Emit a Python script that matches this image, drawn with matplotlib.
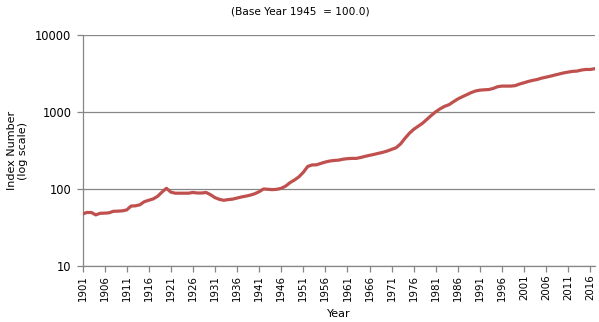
import matplotlib
matplotlib.use("Agg")
import matplotlib.pyplot as plt
from matplotlib.ticker import FixedLocator, NullLocator, FixedFormatter

years = list(range(1901, 2018))
index_values = [
    47.8, 50, 50, 46.5, 48.8, 49, 49.5, 51.8, 52, 52.5,          # 1901-1910
    53.9, 60.6, 61, 63, 69, 72, 75, 81, 92, 103,                 # 1911-1920
    92, 89, 89, 89, 89, 91, 89.5, 89.5, 91, 85,                  # 1921-1930
    78, 74, 72, 73.5, 74.5, 77, 79.5, 81.5, 84, 87.5,            # 1931-1940
    93, 101, 100, 99, 100, 103, 110, 122, 132, 145,              # 1941-1950
    166, 198, 207, 208, 217, 226, 233, 237, 239, 246,            # 1951-1960
    250, 252, 252, 259, 268, 276, 284, 293, 302, 314,            # 1961-1970
    330, 346, 387, 457, 532, 600, 658, 720, 810, 912,            # 1971-1980
    1016, 1111, 1195, 1255, 1370, 1490, 1590, 1690, 1800, 1890,  # 1981-1990
    1940, 1960, 1975, 2040, 2150, 2190, 2190, 2190, 2220, 2330,  # 1991-2000
    2420, 2520, 2600, 2670, 2780, 2860, 2950, 3050, 3150, 3250,  # 2001-2010
    3330, 3400, 3430, 3540, 3600, 3600, 3680,                    # 2011-2017
]
tick_years = list(range(1901, 2018, 5))
y_ticks = [10, 100, 1000, 10000]
y_tick_labels = ["10", "100", "1000", "10000"]

title_text = "(Base Year 1945  = 100.0)"
x_label = "Year"
y_label = "Index Number\n(log scale)"

W, H = 599, 322
fig = plt.figure(figsize=(W / 100, H / 100), dpi=100)
left, right, top, bottom = 82.5, 594.7, 35.3, 266.3
ax = fig.add_axes([left / W, 1 - bottom / H, (right - left) / W, (bottom - top) / H])

grid_c = "#868686"
ax.plot(years, index_values, color="#C0504D", lw=2.3, solid_joinstyle="round", zorder=3)
ax.set_yscale("log")
ax.set_ylim(10, 10000)
ax.set_xlim(1901, 2017)

ax.yaxis.set_major_locator(FixedLocator(y_ticks))
ax.yaxis.set_major_formatter(FixedFormatter(y_tick_labels))
ax.yaxis.set_minor_locator(NullLocator())
ax.set_xticks(tick_years)
ax.set_xticklabels([str(y) for y in tick_years], rotation=90)

ax.grid(axis="y", color=grid_c, lw=0.9)
ax.set_axisbelow(True)
for s in ["top", "right"]:
    ax.spines[s].set_visible(False)
for s in ["left", "bottom"]:
    ax.spines[s].set_color(grid_c)
    ax.spines[s].set_linewidth(0.9)

ax.tick_params(axis="y", direction="out", length=4, width=0.9, color=grid_c,
               labelsize=8.3, pad=4)
ax.tick_params(axis="x", direction="out", length=4, width=0.9, color=grid_c,
               labelsize=7.4, pad=2)

ax.set_xlabel(x_label, fontsize=8, labelpad=6)
ax.set_ylabel(y_label, fontsize=8, labelpad=5)
fig.text(300 / W, 1 - 12 / H, title_text, ha="center", va="center", fontsize=7.6)

fig.savefig("out.png", dpi=100)
